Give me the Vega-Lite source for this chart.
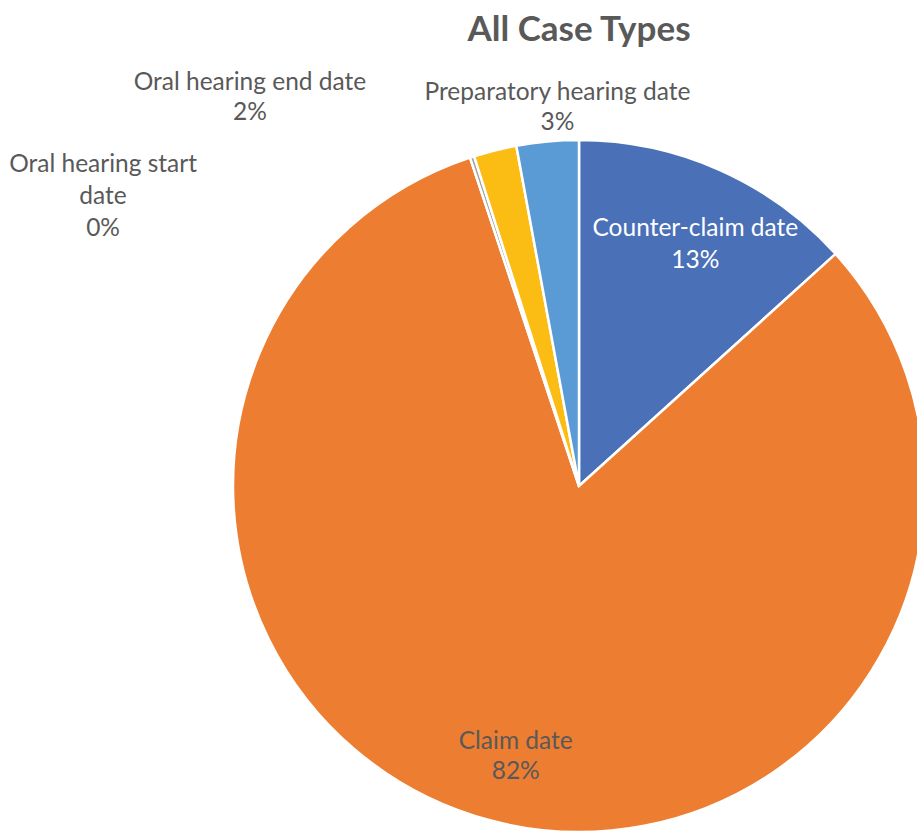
{
  "$schema": "https://vega.github.io/schema/vega-lite/v6.json",
  "width": 692,
  "height": 692,
  "autosize": {"type": "none"},
  "padding": {"left": 233, "top": 140, "right": 0, "bottom": 0},
  "background": "white",
  "config": {"view": {"stroke": null}, "font": "Lato"},
  "title": {
    "text": "All Case Types",
    "font": "Lato",
    "fontSize": 35,
    "fontWeight": "bold",
    "color": "#595959",
    "anchor": "middle",
    "baseline": "alphabetic",
    "offset": -6
  },
  "data": {
    "values": [
      {"category": "Counter-claim date", "value": 13.3},
      {"category": "Claim date", "value": 81.6},
      {"category": "Oral hearing start date", "value": 0.2},
      {"category": "Oral hearing end date", "value": 2.0},
      {"category": "Preparatory hearing date", "value": 2.9}
    ]
  },
  "transform": [
    {"joinaggregate": [{"op": "sum", "field": "value", "as": "total"}]},
    {"stack": "value", "groupby": [], "as": ["start", "end"], "offset": "zero"},
    {"calculate": "(datum.start + datum.end) / 2", "as": "mid"},
    {"calculate": "format(datum.value / datum.total, '.0%')", "as": "pct"}
  ],
  "layer": [
    {
      "mark": {"type": "arc", "radius": 346, "stroke": "white", "strokeWidth": 2.5},
      "encoding": {
        "theta": {"field": "start", "type": "quantitative", "scale": {"domain": [0, 100]}},
        "theta2": {"field": "end"},
        "color": {
          "field": "category",
          "type": "nominal",
          "scale": {
            "domain": ["Counter-claim date", "Claim date", "Oral hearing start date", "Oral hearing end date", "Preparatory hearing date"],
            "range": ["#4A70B8", "#ED7D31", "#A5A5A5", "#FBBC13", "#5B9BD5"]
          },
          "legend": null
        }
      }
    },
    {
      "transform": [
        {"filter": "datum.category == 'Counter-claim date'"},
        {"calculate": "[datum.category, datum.pct]", "as": "lbl"}
      ],
      "mark": {"type": "text", "radius": 267, "dx": 8, "dy": -13, "fontSize": 24.5, "lineHeight": 32, "color": "white", "align": "center", "baseline": "middle"},
      "encoding": {
        "theta": {"field": "mid", "type": "quantitative"},
        "text": {"field": "lbl"}
      }
    },
    {
      "transform": [
        {"filter": "datum.category == 'Claim date'"},
        {"calculate": "[datum.category, datum.pct]", "as": "lbl"}
      ],
      "mark": {"type": "text", "radius": 272, "dx": 6, "dy": -7, "fontSize": 24.5, "lineHeight": 30, "color": "#595959", "align": "center", "baseline": "middle"},
      "encoding": {
        "theta": {"field": "mid", "type": "quantitative"},
        "text": {"field": "lbl"}
      }
    },
    {
      "transform": [
        {"filter": "datum.category == 'Preparatory hearing date'"},
        {"calculate": "[datum.category, datum.pct]", "as": "lbl"}
      ],
      "mark": {"type": "text", "radius": 380, "dx": 13, "dy": -15, "fontSize": 24.5, "lineHeight": 30, "color": "#595959", "align": "center", "baseline": "middle"},
      "encoding": {
        "theta": {"field": "mid", "type": "quantitative"},
        "text": {"field": "lbl"}
      }
    },
    {
      "transform": [
        {"filter": "datum.category == 'Oral hearing end date'"},
        {"calculate": "[datum.category, datum.pct]", "as": "lbl"}
      ],
      "mark": {"type": "text", "radius": 400, "dx": -232, "dy": -15, "fontSize": 24.5, "lineHeight": 30, "color": "#595959", "align": "center", "baseline": "middle"},
      "encoding": {
        "theta": {"field": "mid", "type": "quantitative"},
        "text": {"field": "lbl"}
      }
    },
    {
      "transform": [
        {"filter": "datum.category == 'Oral hearing start date'"},
        {"calculate": "[replace(datum.category, ' date', ''), 'date', datum.pct]", "as": "lbl"}
      ],
      "mark": {"type": "text", "radius": 304, "dx": -382, "dy": -32, "fontSize": 24.5, "lineHeight": 32, "color": "#595959", "align": "center", "baseline": "middle"},
      "encoding": {
        "theta": {"field": "mid", "type": "quantitative"},
        "text": {"field": "lbl"}
      }
    }
  ]
}
